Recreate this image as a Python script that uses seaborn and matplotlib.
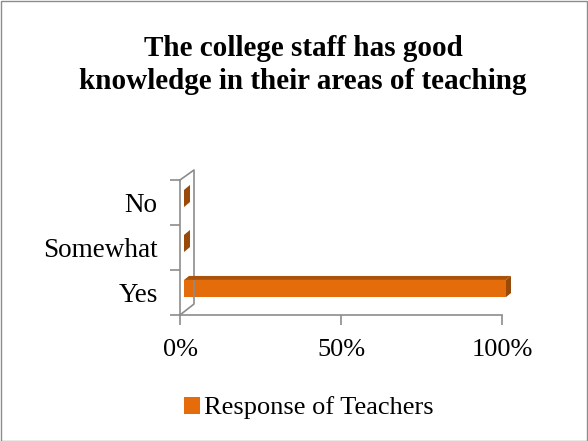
import numpy as np
import pandas as pd
import matplotlib
matplotlib.use("Agg")
import matplotlib.pyplot as plt
import seaborn as sns
from matplotlib.patches import Polygon, Rectangle
from matplotlib.lines import Line2D
from matplotlib.transforms import IdentityTransform, Affine2D

# data
categories = ["No", "Somewhat", "Yes"]
values = [0.0, 0.0, 1.0]
series_name = "Response of Teachers"
x_ticks = [0, 0.5, 1.0]
x_labels = ["0%", "50%", "100%"]
title = "The college staff has good\nknowledge in their areas of teaching"

front = "#E46C0A"
side = "#A8530C"
grey = "#8C8C8C"

plt.rcParams['font.family'] = ['Liberation Serif', 'DejaVu Serif']

df = pd.DataFrame({"answer": categories, "share": values})

fig = plt.figure(figsize=(5.88, 4.41), dpi=100)
W, H = 588, 441
ax = fig.add_axes([180 / W, 1 - 315 / H, (502 - 180) / W, (315 - 180) / H])

sns.barplot(data=df, x="share", y="answer", order=categories, orient="h",
            color=front, saturation=1, width=0.38, ax=ax, zorder=3)

ax.set_xlim(0, 1)
ax.set_ylim(2.5, -0.5)
ax.set_xlabel("")
ax.set_ylabel("")
ax.set_xticks(x_ticks)
ax.set_xticklabels(x_labels, fontsize=19)
ax.set_yticks(range(len(categories)))
ax.set_yticklabels(categories, fontsize=19.5)
ax.set_yticks(np.arange(-0.5, len(categories)), minor=True)
ax.tick_params(axis="y", which="major", length=0, pad=16)
ax.tick_params(axis="y", which="minor", length=7, color=grey, width=1.2)
ax.tick_params(axis="x", length=7, color=grey, width=1.2, pad=10)
for s in ["top", "right"]:
    ax.spines[s].set_visible(False)
for s in ["left", "bottom"]:
    ax.spines[s].set_color(grey)
    ax.spines[s].set_linewidth(1.2)
ax.patch.set_alpha(0)

# 3d look: side wall and bar depth faces
tr = ax.transData
(xl, yb) = ax.transAxes.transform((0, 0))
(_, yt) = ax.transAxes.transform((0, 1))
wdx, wdy = 14, 10
wall = [(xl, yt), (xl + wdx, yt + wdy), (xl + wdx, yb + wdy + 1), (xl, yb)]
fig.add_artist(Line2D([p[0] for p in wall], [p[1] for p in wall], color=grey,
                      lw=1.2, transform=IdentityTransform(), zorder=1))

# bars sit a little inside the wall
sx, sy = 4, 4
bdx, bdy = 5, 4
for bar in ax.patches:
    bar.set_transform(tr + Affine2D().translate(sx, sy))
    bar.set_clip_on(False)
    x0, y0 = bar.get_x(), bar.get_y()
    x1, y1 = x0 + bar.get_width(), y0 + bar.get_height()
    (dx0, dya) = tr.transform((x0, y0))
    (dx1, dyb) = tr.transform((x1, y1))
    dx0, dx1 = dx0 + sx, dx1 + sx
    ytop, ybot = max(dya, dyb) + sy, min(dya, dyb) + sy
    if bar.get_width() > 0:
        topf = [(dx0, ytop), (dx1, ytop), (dx1 + bdx, ytop + bdy), (dx0 + bdx, ytop + bdy)]
        sidef = [(dx1, ybot), (dx1, ytop), (dx1 + bdx, ytop + bdy), (dx1 + bdx, ybot + bdy)]
        fig.add_artist(Polygon(topf, closed=True, fc=side, ec="none",
                               transform=IdentityTransform(), zorder=4))
    else:
        sidef = [(dx1, ybot), (dx1, ytop), (dx1 + 6, ytop + 5), (dx1 + 6, ybot + 5)]
    fig.add_artist(Polygon(sidef, closed=True, fc="#9A4A08", ec="none",
                           transform=IdentityTransform(), zorder=4))

fig.text(303 / W, 1 - 65 / H, title, ha="center", va="center",
         fontsize=21, fontweight="bold", linespacing=1.3)

handle = Rectangle((0, 0), 1, 1, fc=front, ec="none")
fig.legend([handle], [series_name], loc="center", bbox_to_anchor=(309 / W, 1 - 408 / H),
           frameon=False, fontsize=19, handlelength=0.6, handleheight=0.6,
           handletextpad=0.15, borderaxespad=0)

fig.add_artist(Rectangle((0.5 / W, 0.5 / H), 1 - 1.5 / W, 1 - 1.5 / H, fill=False,
                         ec=grey, lw=1, transform=fig.transFigure))

fig.savefig("out.png", dpi=100)
